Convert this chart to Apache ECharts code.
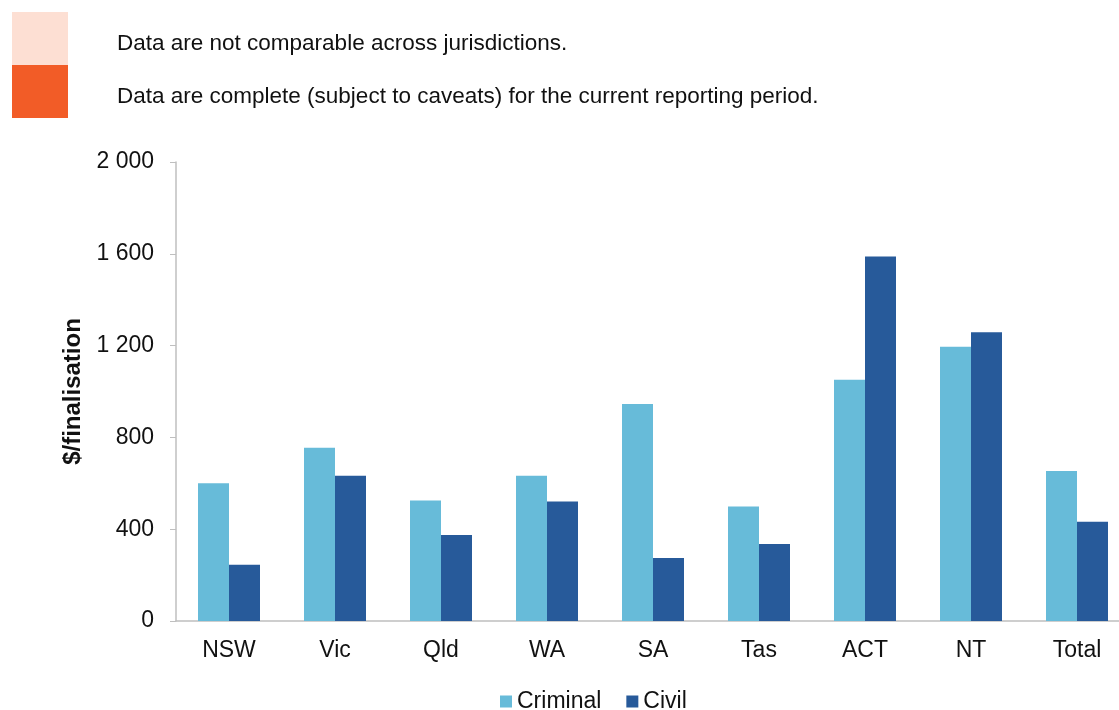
<!DOCTYPE html>
<html>
<head>
<meta charset="utf-8">
<script src="https://cdn.jsdelivr.net/npm/echarts@6/dist/echarts.min.js"></script>
<style>
html,body{margin:0;padding:0;background:#fff;overflow:hidden;}
#chart{width:1130px;height:710px;}
</style>
</head>
<body>
<div id="chart"></div>
<script>
var categories = ['NSW', 'Vic', 'Qld', 'WA', 'SA', 'Tas', 'ACT', 'NT', 'Total'];
var criminal = [600, 755, 525, 633, 945, 499, 1051, 1195, 654];
var civil = [245, 633, 375, 521, 275, 336, 1588, 1258, 432];
var yTicks = [0, 400, 800, 1200, 1600, 2000];
var notes = ['Data are not comparable across jurisdictions.', 'Data are complete (subject to caveats) for the current reporting period.'];

var FONT = 'Liberation Sans, Arial, sans-serif';
var chart = echarts.init(document.getElementById('chart'));
chart.setOption({
  animation: false,
  backgroundColor: '#ffffff',
  textStyle: { fontFamily: FONT },
  graphic: [
    { type: 'rect', shape: { x: 12, y: 12, width: 56, height: 53 }, style: { fill: '#FDDFD3' } },
    { type: 'rect', shape: { x: 12, y: 65, width: 56, height: 53 }, style: { fill: '#F25C27' } },
    { type: 'text', left: 117, top: 32, style: { text: notes[0], fill: '#111', font: '22.5px ' + FONT } },
    { type: 'text', left: 117, top: 85, style: { text: notes[1], fill: '#111', font: '22.5px ' + FONT } }
  ],
  legend: {
    top: 685,
    left: 495,
    itemWidth: 12,
    itemHeight: 12,
    itemGap: 25,
    icon: 'rect',
    textStyle: { fontSize: 23, color: '#111', fontFamily: FONT },
    data: ['Criminal', 'Civil']
  },
  grid: { left: 176, right: 0, top: 162, bottom: 89, containLabel: false },
  xAxis: {
    type: 'category',
    data: categories,
    axisLine: { show: true, lineStyle: { color: '#bfbfbf', width: 1.5 } },
    axisTick: { show: false },
    axisLabel: { fontSize: 23, color: '#111', margin: 18, fontFamily: FONT }
  },
  yAxis: {
    type: 'value',
    min: yTicks[0],
    max: yTicks[yTicks.length - 1],
    interval: 400,
    name: '$/finalisation',
    nameLocation: 'middle',
    nameGap: 91,
    nameTextStyle: { fontSize: 24, fontWeight: 'bold', color: '#111', fontFamily: FONT },
    axisLine: { show: true, lineStyle: { color: '#bfbfbf', width: 1.5 } },
    axisTick: { show: true, length: 6, lineStyle: { color: '#bfbfbf' } },
    splitLine: { show: false },
    axisLabel: {
      fontSize: 23, color: '#111', margin: 22, fontFamily: FONT,
      formatter: function (v) { return String(v).replace(/\B(?=(\d{3})+(?!\d))/g, ' '); }
    }
  },
  series: [
    { name: 'Criminal', type: 'bar', data: criminal, barWidth: 31, barGap: '0%', itemStyle: { color: '#67BBD9' } },
    { name: 'Civil', type: 'bar', data: civil, barWidth: 31, barGap: '0%', itemStyle: { color: '#275A9A' } }
  ]
});
</script>
</body>
</html>
